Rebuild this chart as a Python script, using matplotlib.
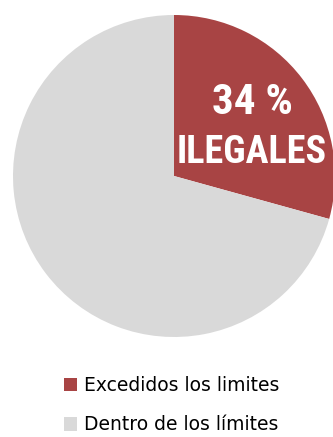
import matplotlib

matplotlib.use('Agg')
import matplotlib.pyplot as plt

# Data
labels = ['Excedidos los limites', 'Dentro de los límites']
shares = [29.3, 70.7]          # wedge sizes as drawn
colors = ['#A84444', '#D9D9D9']
headline_pct = 34
headline_word = 'ILEGALES'

W, H = 333, 437
fig = plt.figure(figsize=(W / 100, H / 100), dpi=100)
fig.patch.set_facecolor('white')

# pie centre (174, 176) px from top-left, radius 161 px
cx, cy, r = 174, 176, 161
ax = fig.add_axes([(cx - r) / W, (H - cy - r) / H, 2 * r / W, 2 * r / H])
wedges, _ = ax.pie(shares, colors=colors, startangle=90, counterclock=False,
                   radius=1, wedgeprops=dict(linewidth=0))
ax.set_xlim(-1, 1)
ax.set_ylim(-1, 1)
ax.set_aspect('equal')
ax.axis('off')

cond = ['Roboto Condensed', 'Roboto']
ax.text(0.487, 0.385, f'{headline_pct} %', color='white', fontsize=31,
        fontweight='bold', family=cond, ha='center', va='baseline')
ax.text(0.480, 0.080, headline_word, color='white', fontsize=27.5,
        fontweight='bold', family=cond, ha='center', va='baseline')

fig.legend(wedges, labels, loc='upper left', bbox_to_anchor=(47 / W, 1 - 359 / H),
           frameon=False, fontsize=13.5, handlelength=0.7, handleheight=0.7,
           handletextpad=0.4, labelspacing=1.1)

fig.savefig('out.png', dpi=100)
